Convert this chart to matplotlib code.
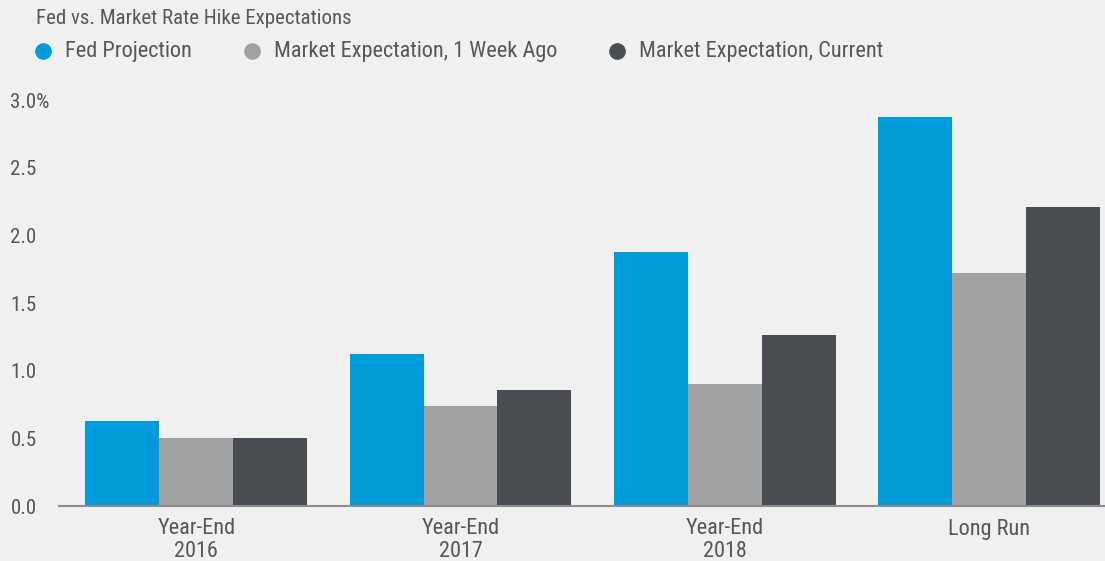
import matplotlib.pyplot as plt
import numpy as np
from matplotlib.lines import Line2D

plt.rcParams['font.family'] = ['Roboto Condensed', 'Liberation Sans Narrow', 'Roboto', 'DejaVu Sans']

categories = ['Year-End\n2016', 'Year-End\n2017', 'Year-End\n2018', 'Long Run']
series = ['Fed Projection', 'Market Expectation, 1 Week Ago', 'Market Expectation, Current']
fed = [0.625, 1.125, 1.875, 2.875]
week_ago = [0.50, 0.74, 0.90, 1.72]
current = [0.50, 0.86, 1.26, 2.21]
yticks = [0.0, 0.5, 1.0, 1.5, 2.0, 2.5, 3.0]
ytick_labels = ['0.0', '0.5', '1.0', '1.5', '2.0', '2.5', '3.0%']

colors = ['#009ddc', '#a1a2a4', '#4a4d52']
txt = '#54575c'
bg = '#f0f0f0'
W = 0.28

fig = plt.figure(figsize=(11.05, 5.61), dpi=100, facecolor=bg)
ax = fig.add_axes([59 / 1105, 1 - 506 / 561, 1 - 59 / 1105, 406 / 561], facecolor=bg)

x = np.arange(len(categories))
for i, (vals, c) in enumerate(zip([fed, week_ago, current], colors)):
    ax.bar(x + (i - 1) * W, vals, W, color=c, zorder=2)

ax.set_xlim(-0.52, 3.44)
ax.set_ylim(0, 3.0)
ax.set_yticks(yticks)
ax.set_yticklabels(ytick_labels)
ax.set_xticks(x)
ax.set_xticklabels(categories, linespacing=1.12)
ax.tick_params(axis='y', length=0, labelsize=15, colors=txt, pad=35)
ax.tick_params(axis='x', length=0, labelsize=16, colors=txt, pad=9)
for lab in ax.get_yticklabels():
    lab.set_horizontalalignment('left')
for s in ['top', 'right', 'left']:
    ax.spines[s].set_visible(False)
ax.spines['bottom'].set_color('#8c8c8c')
ax.spines['bottom'].set_linewidth(1.5)
ax.spines['bottom'].set_zorder(3)

fig.text(36 / 1105, 1 - 19 / 561, 'Fed vs. Market Rate Hike Expectations', fontsize=15,
         color=txt, va='center', ha='left')
mx = [43, 252, 617]
for name, c, m in zip(series, colors, mx):
    fig.add_artist(Line2D([m / 1105], [1 - 51 / 561], marker='o', markersize=11,
                          color=c, linestyle='none', transform=fig.transFigure))
    fig.text((m + 22) / 1105, 1 - 51 / 561, name, fontsize=16, color=txt,
             va='center', ha='left')

fig.savefig('out.png', dpi=100, facecolor=bg)
